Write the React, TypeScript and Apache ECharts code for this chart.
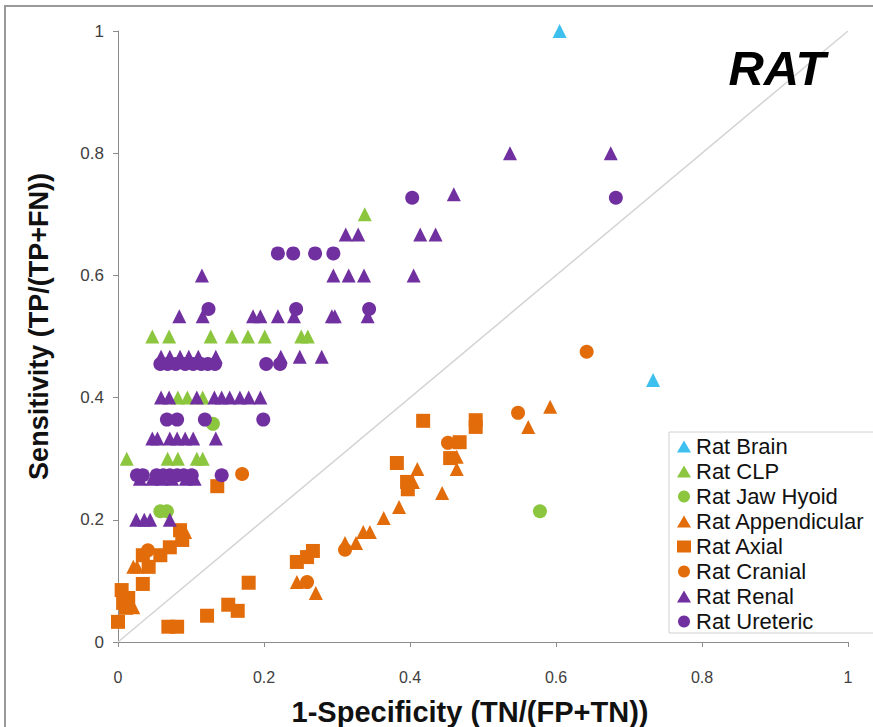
import React, { useEffect, useRef } from "react";
import * as echarts from "echarts";

const xTicks = [0, 0.2, 0.4, 0.6, 0.8, 1];
const yTicks = [0, 0.2, 0.4, 0.6, 0.8, 1];

const ratBrain: number[][] = [
  [0.605, 1.0], [0.733, 0.429],
];
const ratCLP: number[][] = [
  [0.338, 0.7],
  [0.047, 0.5], [0.07, 0.5], [0.127, 0.5], [0.156, 0.5], [0.178, 0.5], [0.201, 0.5], [0.251, 0.5], [0.26, 0.5],
  [0.082, 0.4], [0.095, 0.4], [0.116, 0.4],
  [0.012, 0.3], [0.068, 0.3], [0.082, 0.3], [0.108, 0.3], [0.116, 0.3],
];
const ratJawHyoid: number[][] = [
  [0.13, 0.357], [0.058, 0.214], [0.067, 0.214], [0.578, 0.214],
];
const ratAppendicular: number[][] = [
  [0.021, 0.123], [0.026, 0.123], [0.016, 0.064], [0.021, 0.057], [0.092, 0.18],
  [0.245, 0.098], [0.271, 0.08], [0.311, 0.162], [0.326, 0.162], [0.336, 0.18], [0.345, 0.18],
  [0.364, 0.203], [0.385, 0.221], [0.41, 0.283], [0.404, 0.262], [0.444, 0.244],
  [0.464, 0.303], [0.464, 0.283], [0.592, 0.385], [0.562, 0.352],
];
const ratAxial: number[][] = [
  [0.0, 0.033], [0.005, 0.085], [0.007, 0.064], [0.011, 0.056], [0.014, 0.072],
  [0.034, 0.095], [0.034, 0.142], [0.042, 0.123], [0.058, 0.142], [0.071, 0.155],
  [0.085, 0.183], [0.088, 0.167], [0.069, 0.025], [0.081, 0.025], [0.122, 0.043],
  [0.151, 0.061], [0.164, 0.051], [0.179, 0.097], [0.136, 0.255],
  [0.245, 0.131], [0.259, 0.139], [0.267, 0.149],
  [0.382, 0.293], [0.396, 0.262], [0.397, 0.25], [0.418, 0.362], [0.455, 0.301],
  [0.468, 0.327], [0.49, 0.363], [0.49, 0.352],
];
const ratCranial: number[][] = [
  [0.041, 0.15], [0.17, 0.275], [0.259, 0.098], [0.311, 0.151], [0.452, 0.326],
  [0.548, 0.375], [0.642, 0.475],
];
const ratRenal: number[][] = [
  [0.537, 0.8], [0.675, 0.8], [0.46, 0.733],
  [0.312, 0.667], [0.329, 0.667], [0.414, 0.667], [0.435, 0.667],
  [0.115, 0.6], [0.295, 0.6], [0.316, 0.6], [0.337, 0.6], [0.405, 0.6],
  [0.084, 0.533], [0.116, 0.533], [0.185, 0.533], [0.195, 0.533], [0.219, 0.533],
  [0.241, 0.533], [0.293, 0.533], [0.297, 0.533], [0.342, 0.533],
  [0.059, 0.467], [0.071, 0.467], [0.085, 0.467], [0.097, 0.467], [0.11, 0.467],
  [0.134, 0.467], [0.223, 0.467], [0.249, 0.467], [0.279, 0.467],
  [0.059, 0.4], [0.07, 0.4], [0.108, 0.4], [0.132, 0.4], [0.142, 0.4], [0.153, 0.4],
  [0.167, 0.4], [0.179, 0.4], [0.195, 0.4],
  [0.047, 0.333], [0.054, 0.333], [0.071, 0.333], [0.081, 0.333], [0.092, 0.333],
  [0.103, 0.333], [0.134, 0.333],
  [0.03, 0.267], [0.047, 0.267], [0.06, 0.267], [0.074, 0.267], [0.093, 0.267], [0.105, 0.267],
  [0.025, 0.2], [0.036, 0.2], [0.044, 0.2], [0.071, 0.2],
];
const ratUreteric: number[][] = [
  [0.403, 0.727], [0.682, 0.727],
  [0.219, 0.636], [0.24, 0.636], [0.27, 0.636], [0.295, 0.636],
  [0.124, 0.545], [0.244, 0.545], [0.344, 0.545],
  [0.058, 0.455], [0.068, 0.455], [0.079, 0.455], [0.092, 0.455], [0.103, 0.455],
  [0.114, 0.455], [0.123, 0.455], [0.133, 0.455], [0.203, 0.455], [0.222, 0.455],
  [0.067, 0.364], [0.081, 0.364], [0.119, 0.364], [0.199, 0.364],
  [0.026, 0.273], [0.034, 0.273], [0.053, 0.273], [0.062, 0.273], [0.071, 0.273],
  [0.081, 0.273], [0.09, 0.273], [0.101, 0.273], [0.142, 0.273],
];
const diagonal: number[][] = [[0, 0], [1, 1]];

const BLUE = "#3DC0EE";
const GREEN = "#8CC63F";
const ORANGE = "#E36C0A";
const PURPLE = "#7030A0";

const FONT = "Liberation Sans, Arial, sans-serif";

export default function App() {
  const ref = useRef<HTMLDivElement>(null);
  useEffect(() => {
    if (!ref.current) return;
    const chart = echarts.init(ref.current, undefined, { renderer: "svg" });
    const sc = (name: string, data: number[][], symbol: string, color: string, size: number) => ({
      name,
      type: "scatter",
      data,
      symbol,
      symbolSize: size,
      itemStyle: { color, opacity: 1 },
      z: 3,
    });
    chart.setOption({
      animation: false,
      backgroundColor: "#ffffff",
      grid: { left: 118, right: 25, top: 31, bottom: 85, containLabel: false, outerBoundsMode: "none" },
      xAxis: {
        type: "value",
        min: 0,
        max: 1,
        interval: 0.2,
        name: "1-Specificity (TN/(FP+TN))",
        nameLocation: "middle",
        nameGap: 55,
        nameTextStyle: {
          fontFamily: FONT,
          fontWeight: "bold",
          fontSize: 29,
          color: "#111",
          padding: [0, 26, 0, 0],
        },
        axisLine: { show: true, onZero: false, lineStyle: { color: "#8c8c8c", width: 1 } },
        axisTick: { show: true, length: 5, lineStyle: { color: "#8c8c8c" } },
        axisLabel: {
          margin: 27,
          fontFamily: FONT,
          fontSize: 16,
          color: "#404040",
          formatter: (v: number) => String(xTicks.find((t) => Math.abs(t - v) < 1e-9) ?? v),
        },
        splitLine: { show: false },
      },
      yAxis: {
        type: "value",
        min: 0,
        max: 1,
        interval: 0.2,
        name: "Sensitivity (TP/(TP+FN))",
        nameLocation: "middle",
        nameGap: 66,
        nameRotate: 90,
        nameTextStyle: {
          fontFamily: FONT,
          fontWeight: "bold",
          fontSize: 27,
          color: "#111",
          padding: [0, 0, 0, 20],
        },
        axisLine: { show: true, onZero: false, lineStyle: { color: "#8c8c8c", width: 1 } },
        axisTick: { show: true, length: 5, lineStyle: { color: "#8c8c8c" } },
        axisLabel: {
          margin: 14,
          fontFamily: FONT,
          fontSize: 17,
          color: "#404040",
          formatter: (v: number) => String(yTicks.find((t) => Math.abs(t - v) < 1e-9) ?? v),
        },
        splitLine: { show: false },
      },
      legend: {
        orient: "vertical",
        left: 677,
        top: 434,
        itemWidth: 14,
        itemHeight: 12,
        itemGap: 0,
        padding: 0,
        textStyle: { fontFamily: FONT, fontSize: 22, color: "#111", lineHeight: 25 },
        data: [
          "Rat Brain",
          "Rat CLP",
          "Rat Jaw Hyoid",
          "Rat Appendicular",
          "Rat Axial",
          "Rat Cranial",
          "Rat Renal",
          "Rat Ureteric",
        ],
      },
      graphic: [
        {
          type: "rect",
          shape: { x: 5, y: 6, width: 900, height: 800 },
          style: { fill: "none", stroke: "#9a9a9a", lineWidth: 2 },
          silent: true,
          z: -10,
        },
        {
          type: "rect",
          shape: { x: 669, y: 432, width: 220, height: 201 },
          style: { fill: "#ffffff", stroke: "#d0d0d0", lineWidth: 1 },
          silent: true,
          z: 4,
        },
        {
          type: "text",
          x: 777,
          y: 68,
          style: {
            text: "RAT",
            font: "italic bold 49px Liberation Sans, Arial, sans-serif",
            fill: "#000",
            align: "center",
            verticalAlign: "middle",
          },
          z: 10,
        },
      ],
      series: [
        {
          name: "diag",
          type: "line",
          data: diagonal,
          symbol: "none",
          silent: true,
          lineStyle: { color: "#d4d4d4", width: 1.5 },
          z: 1,
        },
        sc("Rat Brain", ratBrain, "triangle", BLUE, 14),
        sc("Rat CLP", ratCLP, "triangle", GREEN, 14),
        sc("Rat Jaw Hyoid", ratJawHyoid, "circle", GREEN, 14),
        sc("Rat Appendicular", ratAppendicular, "triangle", ORANGE, 14),
        sc("Rat Axial", ratAxial, "rect", ORANGE, 14),
        sc("Rat Cranial", ratCranial, "circle", ORANGE, 14),
        sc("Rat Renal", ratRenal, "triangle", PURPLE, 14),
        sc("Rat Ureteric", ratUreteric, "circle", PURPLE, 14),
      ],
    });
    return () => chart.dispose();
  }, []);
  return (
    <div
      ref={ref}
      style={{ position: "fixed", left: 0, top: 0, width: 873, height: 727, background: "#fff" }}
    />
  );
}
